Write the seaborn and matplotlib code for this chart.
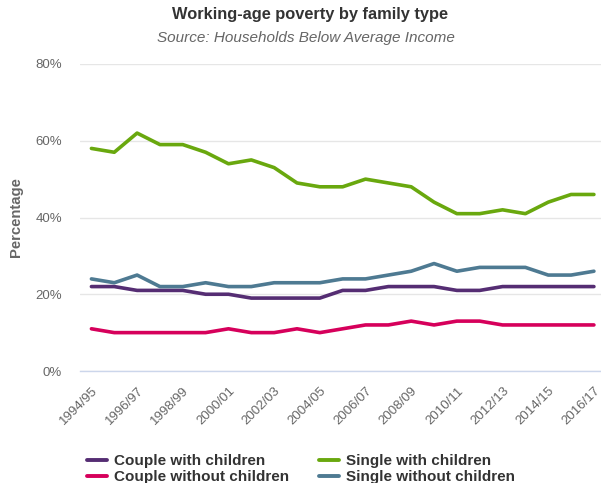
import matplotlib
matplotlib.use("Agg")
import matplotlib.pyplot as plt
import pandas as pd
import seaborn as sns
from matplotlib.ticker import FuncFormatter, MultipleLocator

years = [f"{y}/{str(y + 1)[-2:]}" for y in range(1994, 2017)]

couple_with_children = [22, 22, 21, 21, 21, 20, 20, 19, 19, 19, 19, 21, 21,
                        22, 22, 22, 21, 21, 22, 22, 22, 22, 22]
single_with_children = [58, 57, 62, 59, 59, 57, 54, 55, 53, 49, 48, 48, 50,
                        49, 48, 44, 41, 41, 42, 41, 44, 46, 46]
couple_without_children = [11, 10, 10, 10, 10, 10, 11, 10, 10, 11, 10, 11, 12,
                           12, 13, 12, 13, 13, 12, 12, 12, 12, 12]
single_without_children = [24, 23, 25, 22, 22, 23, 22, 22, 23, 23, 23, 24, 24,
                           25, 26, 28, 26, 27, 27, 27, 25, 25, 26]

series = {
    "Couple with children": couple_with_children,
    "Single with children": single_with_children,
    "Couple without children": couple_without_children,
    "Single without children": single_without_children,
}
colors = {
    "Couple with children": "#552d73",
    "Single with children": "#69a80e",
    "Couple without children": "#d6005b",
    "Single without children": "#4e7a92",
}
# legend fills column-wise, so this gives rows: CwC | SwC, CwoC | SwoC
legend_order = ["Couple with children", "Couple without children",
                "Single with children", "Single without children"]

rows = []
for name, vals in series.items():
    for i, v in enumerate(vals):
        rows.append({"idx": i, "year": years[i], "family": name, "pct": v})
df = pd.DataFrame(rows)

sns.set_style("white")
plt.rcParams["font.family"] = ["Liberation Sans", "DejaVu Sans"]

fig = plt.figure(figsize=(6.01, 4.83), dpi=100)
ax = fig.add_axes([80 / 601, 1 - 371 / 483, 521 / 601, 307 / 483])

sns.lineplot(df, x="idx", y="pct", hue="family", hue_order=list(series),
             palette=colors, linewidth=2.6, ax=ax, legend=False)

ax.set_xlim(-0.5, 22.31)
ax.set_ylim(0, 80)
ax.yaxis.set_major_locator(MultipleLocator(20))
ax.yaxis.set_major_formatter(FuncFormatter(lambda v, _: f"{v:.0f}%"))
ax.grid(axis="y", color="#e6e6e6", linewidth=1)
ax.set_axisbelow(True)
for s in ["top", "right", "left"]:
    ax.spines[s].set_visible(False)
ax.spines["bottom"].set_color("#ccd6eb")
ax.spines["bottom"].set_linewidth(1)

ax.set_xticks(range(0, 23, 2))
ax.set_xticklabels(years[::2], rotation=45, ha="right", rotation_mode="anchor",
                   fontsize=9.5, color="#666666")
ax.tick_params(axis="x", length=7, color="#ccd6eb", width=1, pad=3)
ax.tick_params(axis="y", length=0, labelsize=9.5, labelcolor="#666666", pad=13)

ax.set_xlabel("")
ax.set_ylabel("Percentage", fontsize=10.7, fontweight="bold", color="#666666",
              labelpad=9)

fig.text(310.5 / 601, 1 - 15 / 483, "Working-age poverty by family type",
         ha="center", va="center", fontsize=11.8, fontweight="bold",
         color="#333333")
fig.text(305.5 / 601, 1 - 38 / 483, "Source: Households Below Average Income",
         ha="center", va="center", fontsize=11, style="italic",
         color="#666666")

handles = [plt.Line2D([], [], color=colors[n], linewidth=2.8)
           for n in legend_order]
fig.legend(handles, legend_order, loc="upper left", ncol=2,
           bbox_to_anchor=(87 / 601, 1 - 454 / 483), frameon=False,
           prop={"weight": "bold", "size": 11}, labelcolor="#333333",
           borderpad=0, borderaxespad=0,
           handlelength=1.3, handletextpad=0.45, columnspacing=2.0,
           labelspacing=0.15)

fig.savefig("out.png", dpi=100)
